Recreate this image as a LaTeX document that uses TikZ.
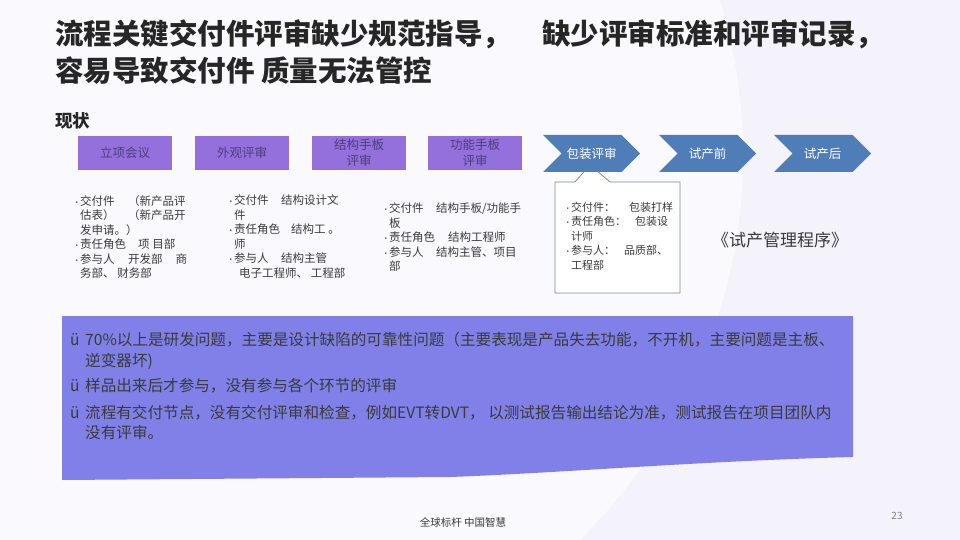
\documentclass[tikz,border=0pt]{standalone}
\usepackage{fontspec}
\setmainfont{Noto Sans CJK SC}
\usetikzlibrary{shapes.symbols}

\definecolor{pagebg}{HTML}{F4F2FA}
\definecolor{pagelight}{HTML}{FAF9FD}
\definecolor{titlegray}{HTML}{262626}
\definecolor{textgray}{HTML}{3A3A3A}
\definecolor{stepfill}{HTML}{9370DB}
\definecolor{steptext}{HTML}{4E3E7E}
\definecolor{chevblue}{HTML}{4F7DB8}
\definecolor{calloutline}{HTML}{7C8AA0}
\definecolor{panelblue}{HTML}{8080E8}

\newcommand{\itemdot}{\makebox[7pt][l]{\fontsize{7.5}{7.5}\selectfont •}}
\newcommand{\itemgap}{\hspace*{7pt}}

\begin{document}
\begin{tikzpicture}[x=1pt, y=-1pt,
    every node/.style={inner sep=0pt, text=textgray},
    stepbox/.style={fill=stepfill, minimum width=94pt, minimum height=34pt, align=center, text=steptext, font=\fontsize{12.5}{16}\selectfont},
    chevron/.style={signal, signal to=east, signal from=west, fill=chevblue, minimum width=97pt, minimum height=37pt, text=white, font=\fontsize{12.5}{14}\selectfont},
    infotext/.style={align=left, anchor=north west, font=\fontsize{11.5}{14.5}\selectfont},
    paneltext/.style={align=left, anchor=north west, font=\fontsize{15.6}{20.5}\selectfont}]

    \useasboundingbox (0,0) rectangle (960,540);
    \fill[pagebg] (0,0) rectangle (960,540);
    \fill[pagelight] (0,0) -- (720,0) .. controls (780,200) and (720,400) .. (580,540) -- (0,540) -- cycle;

    % Title
    \node[anchor=west, text=titlegray, font=\fontsize{28.5}{30}\selectfont\bfseries] (title1) at (55,34) {流程关键交付件评审缺少规范指导，\hspace{31pt}缺少评审标准和评审记录，};
    \node[anchor=west, text=titlegray, font=\fontsize{28.5}{30}\selectfont\bfseries] (title2) at (55,71) {容易导致交付件 质量无法管控};
    \node[anchor=west, text=titlegray, font=\fontsize{17.5}{18}\selectfont\bfseries] (now) at (55,121) {现状};

    % Steps
    \node[stepbox] (lxhy) at (125,153) {立项会议};
    \node[stepbox] (wgps) at (242,153) {外观评审};
    \node[stepbox] (jgsb) at (359,153) {结构手板\\评审};
    \node[stepbox] (gnsb) at (475,153) {功能手板\\评审};

    % Callout, under the chevrons
    \coordinate (tip) at (590,165);
    \filldraw[fill=white, draw=calloutline, line width=0.8pt] (555,182) -- (575,182) -- (tip) -- (610,182) -- (680,182) -- (680,293) -- (555,293) -- cycle;

    \node[chevron] (bzps) at (591.5,153.5) {包装评审};
    \node[chevron] (scq) at (707.5,153.5) {试产前};
    \node[chevron] (sch) at (822.5,153.5) {试产后};

    % Step details
    \node[infotext] (info1) at (73,195) {\itemdot\makebox[48pt][l]{交付件}（新产品评\\ \itemgap\makebox[48pt][l]{估表）}（新产品开\\ \itemgap 发申请。）\\ \itemdot\makebox[58pt][l]{责任角色}项 目部\\ \itemdot\makebox[48pt][l]{参与人}开发部\hspace{13pt}商\\ \itemgap 务部、 财务部};
    \node[infotext] (info2) at (227,195) {\itemdot\makebox[47pt][l]{交付件}结构设计文\\ \itemgap 件\\ \itemdot\makebox[57pt][l]{责任角色}结构工 。\\ \itemgap 师\\ \itemdot\makebox[47pt][l]{参与人}结构主管\\ \itemgap\hspace{5pt}电子工程师、 工程部};
    \node[infotext] (info3) at (382,203) {\itemdot\makebox[47pt][l]{交付件}结构手板/功能手\\ \itemgap 板\\ \itemdot\makebox[59pt][l]{责任角色}结构工程师\\ \itemdot\makebox[47pt][l]{参与人}结构主管、项目\\ \itemgap 部};
    \node[infotext, font=\fontsize{11}{14.4}\selectfont] (info4) at (564,202) {\itemdot 交付件：\hspace{14pt}包装打样\\ \itemdot 责任角色：\hspace{9pt}包装设\\ \itemgap 计师\\ \itemdot 参与人：\hspace{9pt}品质部、\\ \itemgap 工程部};

    \node[font=\fontsize{17}{18}\selectfont] (proc) at (780,240) {《试产管理程序》};

    % Findings
    \fill[panelblue] (62,316) -- (853,316) -- (853,457) .. controls (700,461) and (560,473) .. (450,477) -- (62,480) -- cycle;
    \node[paneltext] (find1) at (70,332) {\makebox[15pt][l]{ü}70\%以上是研发问题，主要是设计缺陷的可靠性问题（主要表现是产品失去功能，不开机，主要问题是主板、\\ \hspace*{15pt}逆变器坏)};
    \node[paneltext] (find2) at (70,378) {\makebox[15pt][l]{ü}样品出来后才参与，没有参与各个环节的评审};
    \node[paneltext] (find3) at (70,405) {\makebox[15pt][l]{ü}流程有交付节点，没有交付评审和检查，例如EVT转DVT， 以测试报告输出结论为准，测试报告在项目团队内\\ \hspace*{15pt}没有评审。};

    % Footer
    \node[font=\fontsize{10.5}{12}\selectfont] (slogan) at (463,522) {全球标杆 中国智慧};
    \node[text=gray, font=\fontsize{10}{12}\selectfont] (page) at (897,516) {23};
\end{tikzpicture}
\end{document}
